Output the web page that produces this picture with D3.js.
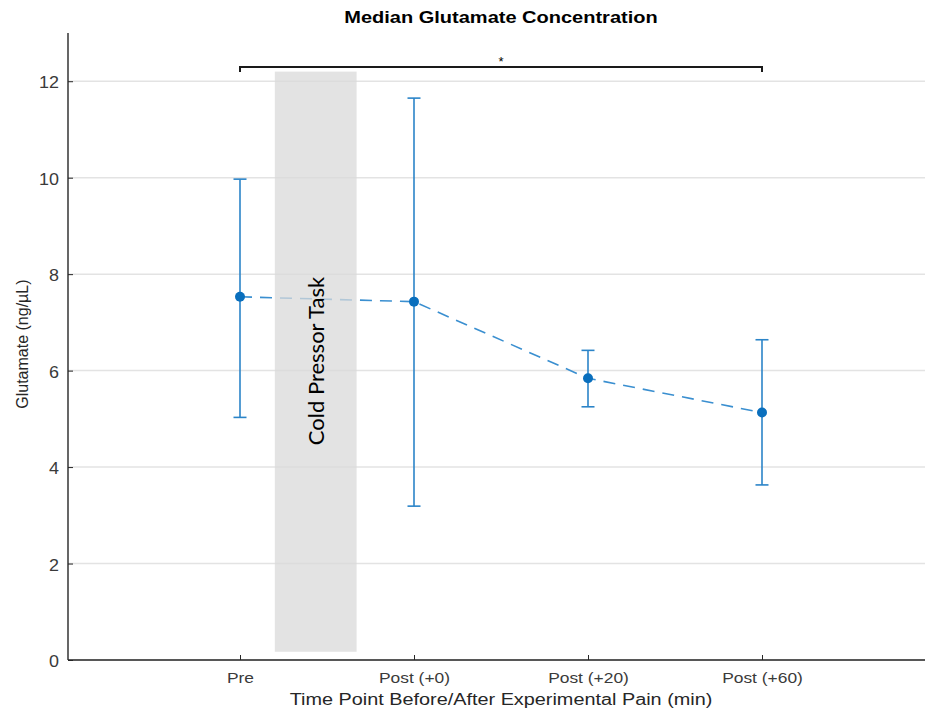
<!DOCTYPE html>
<html>
<head>
<meta charset="utf-8">
<script src="https://cdn.jsdelivr.net/npm/d3@7"></script>
<style>
  html, body { margin: 0; padding: 0; background: #fff; }
  svg { display: block; font-family: "Liberation Sans", Arial, sans-serif; }
</style>
</head>
<body>
<div id="chart"></div>
<script>
// --- data ---
const timePoints = ["Pre", "Post (+0)", "Post (+20)", "Post (+60)"];
const medians = [7.53, 7.43, 5.84, 5.13];
const upper = [9.97, 11.65, 6.42, 6.64];
const lower = [5.03, 3.19, 5.25, 3.63];
const yTicks = [0, 2, 4, 6, 8, 10, 12];
// shaded task interval, in x-index units and y units
const taskX = [1.2, 1.67];
const taskY = [0.17, 12.2];
const sigPair = [0, 3];

const W = 925, H = 713;
const m = { left: 68, right: -11, top: 33, bottom: 53 };

const svg = d3.select("#chart").append("svg")
  .attr("width", W).attr("height", H);

// the source figure is stretched sideways a bit; widen text to match
function stretch(sel, f) {
  sel.each(function() {
    const w = this.getComputedTextLength();
    d3.select(this).attr("textLength", w * f).attr("lengthAdjust", "spacingAndGlyphs");
  });
}

const x = d3.scaleLinear().domain([0, timePoints.length + 1]).range([66, 66 + 174 * (timePoints.length + 1)]);
const y = d3.scaleLinear().domain([0, 13]).range([H - m.bottom, m.top]);
const xi = i => x(i + 1);
const xEnd = W - m.right;

// gridlines
svg.append("g")
  .selectAll("line")
  .data(yTicks)
  .join("line")
    .attr("x1", m.left).attr("x2", xEnd)
    .attr("y1", d => y(d)).attr("y2", d => y(d))
    .attr("stroke", "#e3e3e3").attr("stroke-width", 1.5);

// dashed median line
const line = d3.line().x((d, i) => xi(i)).y(d => y(d));
svg.append("path")
  .datum(medians)
  .attr("d", line)
  .attr("fill", "none")
  .attr("stroke", "#3a8fd0")
  .attr("stroke-width", 1.6)
  .attr("stroke-dasharray", "12,8");

// error bars
const eb = svg.append("g").attr("stroke", "#2b84c8").attr("stroke-width", 1.6);
timePoints.forEach((t, i) => {
  eb.append("line").attr("x1", xi(i)).attr("x2", xi(i)).attr("y1", y(lower[i])).attr("y2", y(upper[i]));
  [lower[i], upper[i]].forEach(v => {
    eb.append("line").attr("x1", xi(i) - 6.5).attr("x2", xi(i) + 6.5).attr("y1", y(v)).attr("y2", y(v));
  });
});

// markers
svg.append("g")
  .selectAll("circle")
  .data(medians)
  .join("circle")
    .attr("cx", (d, i) => xi(i))
    .attr("cy", d => y(d))
    .attr("r", 5)
    .attr("fill", "#0a6fbd");

// task box (semi transparent, over the data)
svg.append("rect")
  .attr("x", x(taskX[0])).attr("width", x(taskX[1]) - x(taskX[0]))
  .attr("y", y(taskY[1])).attr("height", y(taskY[0]) - y(taskY[1]))
  .attr("fill", "#d9d9d9").attr("opacity", 0.75);

svg.append("text")
  .attr("transform", `translate(${(x(taskX[0]) + x(taskX[1])) / 2 + 8},${y(6.2)}) rotate(-90)`)
  .attr("text-anchor", "middle")
  .style("font-family", "Lato, 'Open Sans', sans-serif")
  .style("font-size", "22px")
  .attr("fill", "#000")
  .text("Cold Pressor Task");

// axes
const axisCol = "#262626";
const yAxis = svg.append("g")
  .attr("transform", `translate(${m.left},0)`)
  .call(d3.axisLeft(y).tickValues(yTicks).tickSize(-5).tickPadding(9));
yAxis.select(".domain").attr("d", `M0,${m.top}V${H - m.bottom}`).attr("stroke", axisCol).attr("stroke-width", 1.4);
yAxis.selectAll(".tick line").attr("stroke", axisCol);
yAxis.selectAll("text").attr("fill", "#3a3a3a").attr("dy", "0.42em").style("font-size", "16px").call(stretch, 1.12);

const xAxis = svg.append("g")
  .attr("transform", `translate(0,${H - m.bottom})`)
  .call(d3.axisBottom(x).tickValues(timePoints.map((t, i) => i + 1)).tickFormat((d, i) => timePoints[i]).tickSize(-5).tickPadding(12));
xAxis.select(".domain").attr("d", `M${m.left},0H${xEnd}`).attr("stroke", axisCol).attr("stroke-width", 1.6);
xAxis.selectAll(".tick line").attr("stroke", axisCol);
xAxis.selectAll("text").attr("fill", "#3a3a3a").style("font-size", "15px").call(stretch, 1.16);

// axis titles
svg.append("text")
  .attr("x", xi(1.5)).attr("y", 705)
  .attr("text-anchor", "middle")
  .style("font-size", "16px").attr("fill", "#262626")
  .text("Time Point Before/After Experimental Pain (min)")
  .call(stretch, 1.24);

svg.append("text")
  .attr("transform", `translate(28,${y(6.55)}) rotate(-90)`)
  .attr("text-anchor", "middle")
  .style("font-size", "16px").attr("fill", "#262626")
  .text("Glutamate (ng/µL)");

// title
svg.append("text")
  .attr("x", xi(1.5)).attr("y", 23)
  .attr("text-anchor", "middle")
  .style("font-size", "16px").style("font-weight", "bold").attr("fill", "#000")
  .text("Median Glutamate Concentration")
  .call(stretch, 1.25);

// significance bracket
const by = 67;
svg.append("path")
  .attr("d", `M${xi(sigPair[0])},${by + 5}V${by}H${xi(sigPair[1])}V${by + 5}`)
  .attr("fill", "none").attr("stroke", "#1a1a1a").attr("stroke-width", 2);
svg.append("text")
  .attr("x", (xi(sigPair[0]) + xi(sigPair[1])) / 2).attr("y", by - 1)
  .attr("text-anchor", "middle")
  .style("font-size", "13px").attr("fill", "#000")
  .text("*");
</script>
</body>
</html>
